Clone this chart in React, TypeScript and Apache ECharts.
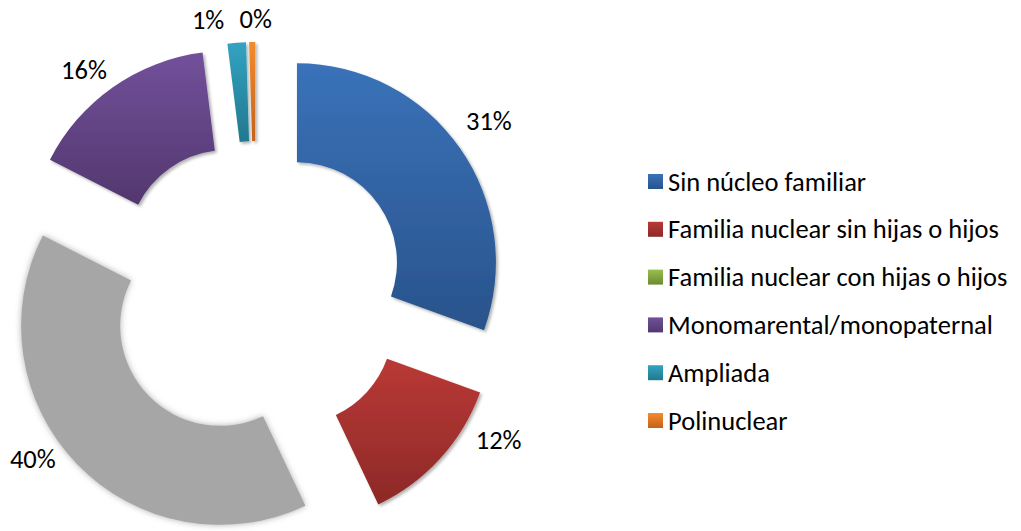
import React, { useEffect, useRef } from 'react';
import * as echarts from 'echarts';

const categories = [
  'Sin núcleo familiar',
  'Familia nuclear sin hijas o hijos',
  'Familia nuclear con hijas o hijos',
  'Monomarental/monopaternal',
  'Ampliada',
  'Polinuclear',
];
const values = [30.5, 12.4, 39.5, 15.5, 1.49, 0.49];
const sliceColors = [
  ['#3A72B9', '#29538B'],
  ['#BA3936', '#8D2927'],
  ['#A6A6A6', '#A6A6A6'],
  ['#72519B', '#52376E'],
  ['#32A3C1', '#22788F'],
  ['#F48B2E', '#C4621A'],
];
const legendColors = [
  ['#3A72B9', '#29538B'],
  ['#BA3936', '#8D2927'],
  ['#98BF4E', '#6C8A32'],
  ['#72519B', '#52376E'],
  ['#32A3C1', '#22788F'],
  ['#F48B2E', '#C4621A'],
];
// label nudges [dx, dy] (Excel "best fit" placement)
const labelShift = [[2, -8], [34, -41], [-21, -29], [-10, 10], [-26, 10], [4, 10]];

const FONT = 'Carlito, Lato, sans-serif';

const grad = (c: string[]) => ({
  type: 'linear', x: 0, y: 0, x2: 0, y2: 1,
  colorStops: [{ offset: 0, color: c[0] }, { offset: 1, color: c[1] }],
});

export default function App() {
  const ref = useRef<HTMLDivElement>(null);
  useEffect(() => {
    if (!ref.current) return;
    const chart = echarts.init(ref.current, null, { renderer: 'svg' });
    const center = [256, 291];
    const offset = 50;
    chart.setOption({
      animation: false,
      backgroundColor: '#ffffff',
      legend: {
        orient: 'vertical',
        left: 648,
        top: 168,
        padding: 0,
        itemWidth: 15,
        itemHeight: 15,
        itemGap: 20.8,
        icon: 'rect',
        selectedMode: false,
        textStyle: { fontFamily: FONT, fontSize: 26.5, color: '#000', lineHeight: 26 },
        data: categories.map((n, i) => ({ name: n, itemStyle: { color: grad(legendColors[i]) } })),
      },
      series: [
        {
          type: 'pie',
          center,
          radius: [100, 199],
          startAngle: 90,
          selectedMode: 'multiple',
          selectedOffset: offset,
          silent: true,
          emphasis: { disabled: true },
          label: { show: false },
          labelLine: { show: false },
          data: categories.map((n, i) => ({
            name: n,
            value: values[i],
            selected: true,
            itemStyle: i === 2
              ? { color: grad(sliceColors[i]), shadowBlur: 6, shadowColor: 'rgba(166,166,166,0.9)' }
              : { color: grad(sliceColors[i]), shadowBlur: 3, shadowOffsetX: 2, shadowOffsetY: 2, shadowColor: 'rgba(0,0,0,0.3)' },
          })),
        },
        {
          type: 'pie',
          center,
          radius: [219, 239],
          startAngle: 90,
          selectedMode: 'multiple',
          selectedOffset: offset,
          silent: true,
          emphasis: { disabled: true },
          itemStyle: { color: 'rgba(0,0,0,0)' },
          label: {
            show: true,
            position: 'inside',
            fontFamily: FONT,
            color: '#000',
            formatter: (p: any) => {
              const txt = '{t|' + Math.round(p.percent) + '%}';
              const dy = labelShift[p.dataIndex][1];
              return dy >= 0 ? '{s| }\n' + txt : txt + '\n{s| }';
            },
          },
          labelLine: { show: false },
          data: categories.map((n, i) => {
            const [dx, dy] = labelShift[i];
            return {
              name: n,
              value: values[i],
              selected: true,
              label: {
                padding: [0, dx < 0 ? -2 * dx : 0, 0, dx > 0 ? 2 * dx : 0],
                rich: {
                  t: { fontFamily: FONT, fontSize: 26.5, color: '#000', lineHeight: 28 },
                  s: { fontSize: 1, lineHeight: Math.abs(2 * dy) },
                },
              },
            };
          }),
        },
      ],
    });
    return () => chart.dispose();
  }, []);
  return (
    <div
      ref={ref}
      style={{ position: 'absolute', left: 0, top: 0, width: 1021, height: 531 }}
    />
  );
}
